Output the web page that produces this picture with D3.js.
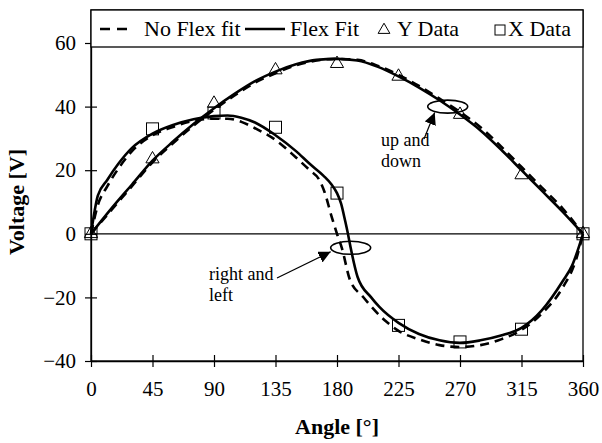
<!DOCTYPE html>
<html>
<head>
<meta charset="utf-8">
<script src="https://cdn.jsdelivr.net/npm/d3@7"></script>
<style>
  body { margin: 0; background: #fff; }
  svg text { font-family: "Liberation Serif", "Times New Roman", serif; fill: #000; }
</style>
</head>
<body>
<svg id="chart"></svg>
<script>
// measured points, [angle, voltage]
const yData = [[0, 0], [45, 23.5], [90, 41], [135, 51.5], [180, 53.5], [225, 49.5], [270, 37.5], [315, 18.5], [360, 0]];
const xData = [[0, 0], [45, 33], [90, 38], [135, 33.5], [180, 12.8], [225, -28.8], [270, -34], [315, -30], [360, 0]];

// fitted curves
const yFlexFit = [[0, 0], [15, 8], [30, 15.5], [45, 23], [60, 29], [75, 34.5], [90, 39.5], [105, 44], [120, 48],
  [135, 51], [150, 53.3], [165, 54.7], [180, 55], [195, 54.5], [210, 52.5], [225, 49.5], [240, 46], [255, 42],
  [270, 37.5], [285, 32.5], [300, 26.5], [315, 20], [330, 13.5], [345, 7], [360, 0]];
const yNoFlexFit = [[0, 0], [15, 7.5], [30, 15], [45, 22.5], [60, 28.5], [75, 34], [90, 39], [105, 43.5], [120, 47.5],
  [135, 50.5], [150, 53], [165, 54.5], [180, 55], [195, 54.7], [210, 52.8], [225, 50], [240, 46.5], [255, 42.5],
  [270, 38.3], [285, 33.5], [300, 27.5], [315, 21], [330, 14.5], [345, 8], [360, 0]];
const xFlexFit = [[0, 0], [5, 12], [12, 17], [20, 22], [30, 27], [45, 31.5], [60, 34.2], [75, 36], [90, 37], [100, 37.2],
  [110, 36.5], [120, 35], [135, 31], [150, 26], [160, 22], [170, 18.3], [176, 15.5], [180, 12.8], [183, 9.5],
  [186, 4], [188, 0], [190, -4.4], [195, -13.5], [205, -20], [211, -23], [225, -28], [240, -31.5], [255, -33.5],
  [270, -34.3], [285, -33.5], [300, -32], [315, -29.6], [330, -24], [345, -15], [352, -10], [360, 0]];
const xNoFlexFit = [[0, 0], [5, 9], [12, 15], [20, 20.5], [30, 26], [45, 31], [60, 33.6], [75, 35.5], [90, 36.2],
  [100, 36.2], [110, 35.2], [120, 33.2], [135, 29.5], [150, 24], [160, 20], [167, 17], [171, 13], [176, 5.5],
  [180, 0], [183.5, -4.4], [189.5, -14.5], [199, -19.8], [216, -27.6], [225, -30.5], [240, -33.2], [255, -35],
  [270, -35.6], [285, -35], [300, -33.2], [315, -30.2], [330, -25], [345, -17], [355, -8], [360, 0]];

const xTicks = [0, 45, 90, 135, 180, 225, 270, 315, 360];
const yTicks = [-40, -20, 0, 20, 40, 60];

const width = 602;
const height = 443;
const plotLeft = 91, plotRight = 583, plotTop = 10, plotBottom = 361;

const svg = d3.select("#chart").attr("width", width).attr("height", height);

const x = d3.scaleLinear().domain([0, 360]).range([plotLeft, plotRight]);
const y = d3.scaleLinear().domain([-40, 60]).range([plotBottom, 43]);

// plot frame
svg.append("rect")
  .attr("x", plotLeft).attr("y", plotTop)
  .attr("width", plotRight - plotLeft).attr("height", plotBottom - plotTop)
  .attr("fill", "none").attr("stroke", "#000").attr("stroke-width", 1.3);

// zero line
svg.append("line")
  .attr("x1", plotLeft).attr("x2", plotRight)
  .attr("y1", y(0)).attr("y2", y(0))
  .attr("stroke", "#000").attr("stroke-width", 1.3);

const xAxis = d3.axisBottom(x).tickValues(xTicks).tickSizeInner(6).tickSizeOuter(0).tickPadding(14);
const yAxis = d3.axisLeft(y).tickValues(yTicks).tickSizeInner(6).tickSizeOuter(0).tickPadding(9);

const gx = svg.append("g").attr("transform", `translate(0, ${plotBottom})`).call(xAxis);
const gy = svg.append("g").attr("transform", `translate(${plotLeft}, 0)`).call(yAxis);

[gx, gy].forEach((g) => {
  g.select(".domain").attr("stroke", "#000").attr("stroke-width", 1.3);
  g.selectAll(".tick line").attr("stroke", "#000").attr("stroke-width", 1.2);
  g.selectAll(".tick text").attr("font-size", 21).attr("font-family", "Liberation Serif");
});
// ticks cross the axis line
gx.selectAll(".tick line").attr("y1", -6).attr("y2", 6);
gy.selectAll(".tick line").attr("x1", 6).attr("x2", -6);
gy.selectAll(".tick").filter((d) => d === 60).select("line").attr("x1", 0);

svg.append("text")
  .attr("x", (plotLeft + plotRight) / 2).attr("y", 434)
  .attr("text-anchor", "middle")
  .attr("font-size", 22).attr("font-weight", "bold")
  .text("Angle [°]");

svg.append("text")
  .attr("transform", `translate(24, ${y(10)}) rotate(-90)`)
  .attr("text-anchor", "middle")
  .attr("font-size", 22).attr("font-weight", "bold")
  .text("Voltage [V]");

// curves
const line = d3.line()
  .x((d) => x(d[0]))
  .y((d) => y(d[1]))
  .curve(d3.curveMonotoneX);

const curves = [
  { data: yNoFlexFit, dash: "9,6" },
  { data: xNoFlexFit, dash: "9,6" },
  { data: yFlexFit, dash: null },
  { data: xFlexFit, dash: null }
];

svg.selectAll("path.fit")
  .data(curves)
  .enter()
  .append("path")
  .attr("class", "fit")
  .attr("d", (d) => line(d.data))
  .attr("fill", "none")
  .attr("stroke", "#000")
  .attr("stroke-width", 2.6)
  .attr("stroke-dasharray", (d) => d.dash);

// markers
const triangle = d3.symbol().type(d3.symbolTriangle).size(75);
svg.selectAll("path.ymark")
  .data(yData)
  .enter()
  .append("path")
  .attr("class", "ymark")
  .attr("d", triangle)
  .attr("transform", (d) => `translate(${x(d[0])}, ${y(d[1])})`)
  .attr("fill", "none")
  .attr("stroke", "#000")
  .attr("stroke-width", 1);

svg.selectAll("rect.xmark")
  .data(xData)
  .enter()
  .append("rect")
  .attr("class", "xmark")
  .attr("x", (d) => x(d[0]) - 6)
  .attr("y", (d) => y(d[1]) - 6)
  .attr("width", 12)
  .attr("height", 12)
  .attr("fill", "none")
  .attr("stroke", "#000")
  .attr("stroke-width", 1);

// annotations
svg.append("defs").append("marker")
  .attr("id", "head")
  .attr("viewBox", "0 0 10 10")
  .attr("refX", 10).attr("refY", 5)
  .attr("markerWidth", 10).attr("markerHeight", 10)
  .attr("orient", "auto")
  .append("path")
  .attr("d", "M0,0 L10,5 L0,10 Z")
  .attr("fill", "#000");

const notes = [
  { cx: 190, cy: -4.4, text: ["right and", "left"], tx: 209, ty: 280, from: [277, 278], end: [-20, 4] },
  { cx: 261, cy: 40, text: ["up and", "down"], tx: 381, ty: 146, from: [424, 139], end: [-13, 6] }
];

notes.forEach((n) => {
  svg.append("ellipse")
    .attr("cx", x(n.cx)).attr("cy", y(n.cy))
    .attr("rx", 20).attr("ry", 6.5)
    .attr("fill", "none").attr("stroke", "#000").attr("stroke-width", 1.6);
  const t = svg.append("text").attr("font-size", 18);
  n.text.forEach((s, i) => {
    t.append("tspan").attr("x", n.tx).attr("y", n.ty + i * 21).text(s);
  });
  svg.append("line")
    .attr("x1", n.from[0]).attr("y1", n.from[1])
    .attr("x2", x(n.cx) + n.end[0]).attr("y2", y(n.cy) + n.end[1])
    .attr("stroke", "#000").attr("stroke-width", 1.2)
    .attr("marker-end", "url(#head)");
});

// legend
const lg = svg.append("g");
lg.append("rect")
  .attr("x", plotLeft).attr("y", plotTop)
  .attr("width", plotRight - plotLeft).attr("height", 37)
  .attr("fill", "#fff").attr("stroke", "#000").attr("stroke-width", 1.3);

const ly = 29;
lg.append("line").attr("x1", 100).attr("x2", 134).attr("y1", ly).attr("y2", ly)
  .attr("stroke", "#000").attr("stroke-width", 2.6).attr("stroke-dasharray", "10,7");
lg.append("line").attr("x1", 245).attr("x2", 285).attr("y1", ly).attr("y2", ly)
  .attr("stroke", "#000").attr("stroke-width", 2.6);
lg.append("path").attr("d", d3.symbol().type(d3.symbolTriangle).size(60))
  .attr("transform", `translate(384, ${ly + 1})`)
  .attr("fill", "none").attr("stroke", "#000");
lg.append("rect").attr("x", 495).attr("y", ly - 4).attr("width", 10).attr("height", 10)
  .attr("fill", "none").attr("stroke", "#000");

const legendText = [["No Flex fit", 144], ["Flex Fit", 290], ["Y Data", 397], ["X Data", 508]];
lg.selectAll("text.lt")
  .data(legendText)
  .enter()
  .append("text")
  .attr("class", "lt")
  .attr("x", (d) => d[1])
  .attr("y", ly + 7)
  .attr("font-size", 22)
  .text((d) => d[0]);
</script>
</body>
</html>
